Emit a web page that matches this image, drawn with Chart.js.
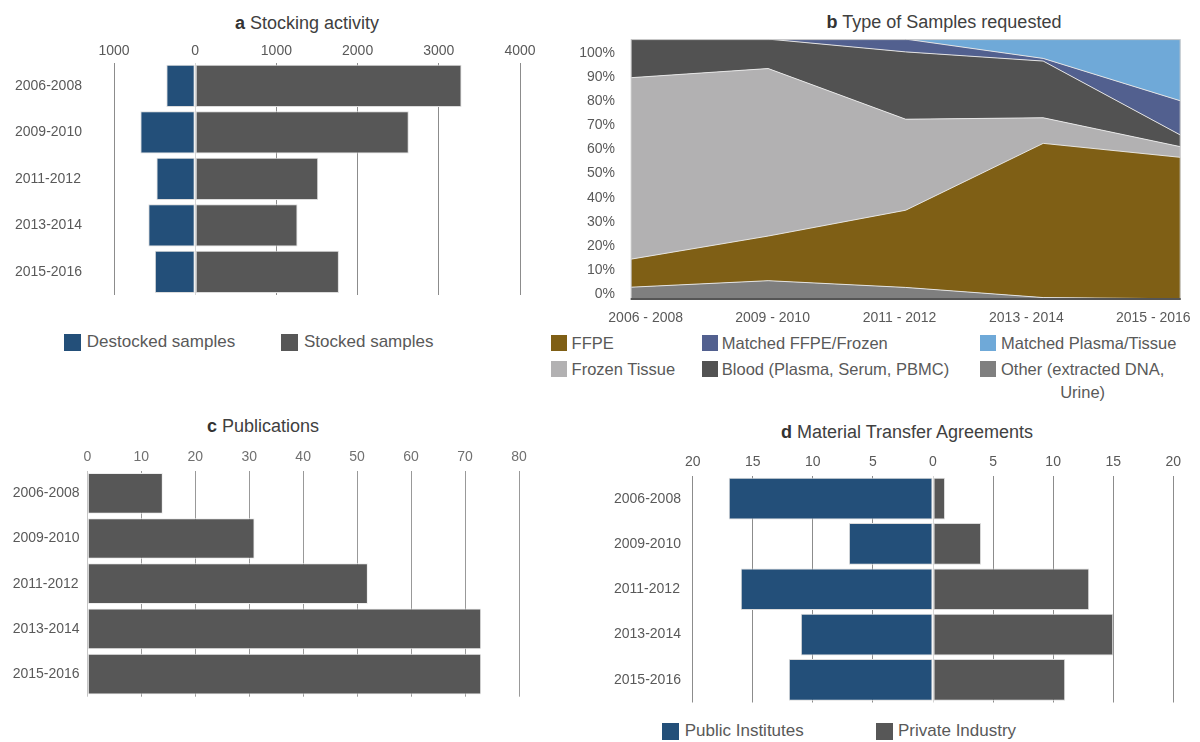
<!DOCTYPE html>
<html><head><meta charset="utf-8">
<script src="https://cdn.jsdelivr.net/npm/chart.js@4.4.0/dist/chart.umd.min.js"></script>
<style>
html,body{margin:0;padding:0;background:#fff;}
body{width:1200px;height:742px;position:relative;overflow:hidden;font-family:'Liberation Sans',Arial,sans-serif;}
canvas{position:absolute;}
.title{position:absolute;width:400px;text-align:center;font-size:18px;color:#404040;line-height:22px;white-space:nowrap;}
.title b{color:#333;}
.sq{position:absolute;}
.lt{position:absolute;color:#595959;white-space:nowrap;}
</style></head><body>
<div class="title" style="left:107px;top:11.7px"><b>a</b> Stocking activity</div>
<div class="title" style="left:744px;top:10.7px"><b>b</b> Type of Samples requested</div>
<div class="title" style="left:63px;top:415px"><b>c</b> Publications</div>
<div class="title" style="left:707px;top:420.7px"><b>d</b> Material Transfer Agreements</div>
<canvas id="ca" width="545" height="275" style="left:0;top:30px"></canvas>
<canvas id="cb" width="640" height="307" style="left:560px;top:22.9px"></canvas>
<canvas id="cc" width="545" height="271" style="left:0;top:435px"></canvas>
<canvas id="cd" width="605" height="272" style="left:590px;top:440px"></canvas>
<script>
// ---------- data ----------
const periods = ['2006-2008', '2009-2010', '2011-2012', '2013-2014', '2015-2016'];
const periodsB = ['2006 - 2008', '2009 - 2010', '2011 - 2012', '2013 - 2014', '2015 - 2016'];

// a Stocking activity
const destockedSamples = [355, 675, 477, 577, 497];
const stockedSamples = [3280, 2630, 1515, 1260, 1770];

// b Type of Samples requested: upper edge of each band, read on the % axis
const pctTicks = [0, 10, 20, 30, 40, 50, 60, 70, 80, 90, 100];
const otherUpper = [2.9, 5.6, 2.8, -1.4, -1.9];
const ffpeUpper = [14.5, 24.1, 34.8, 62.5, 56.7];
const frozenUpper = [89.7, 93.5, 72.5, 73.1, 61.1];
const bloodUpper = [105.7, 105.7, 100.4, 96.6, 65.9];
const matchedFfpeUpper = [105.7, 105.7, 105.7, 97.7, 80.1];
const matchedPlasmaUpper = [105.7, 105.7, 105.7, 105.7, 105.7];

// c Publications
const publications = [14, 31, 52, 73, 73];

// d Material Transfer Agreements
const publicInstitutes = [17, 7, 16, 11, 12];
const privateIndustry = [1, 4, 13, 15, 11];

// ---------- style ----------
const BLUE = '#234f79', DGRAY = '#575757';
const C_FFPE = '#7f5f15', C_MFF = '#52608f', C_MPT = '#6fa9d8', C_FROZ = '#b2b1b2', C_BLOOD = '#525252', C_OTHER = '#7f7f7f';
Chart.defaults.font.family = "'Liberation Sans', Arial, sans-serif";
Chart.defaults.color = '#595959';
Chart.defaults.animation = false;

const gridCol = (zeroCol, col) => (c => (c.tick && c.tick.value === 0) ? zeroCol : col);
const noPlug = { legend: { display: false }, tooltip: { enabled: false } };

// ---------- a ----------
new Chart(document.getElementById('ca'), {
  type: 'bar',
  data: {
    labels: periods,
    datasets: [
      { label: 'Destocked samples', data: destockedSamples.map(v => -v), backgroundColor: BLUE,
        borderColor: '#dcdcdc', borderWidth: 1, borderSkipped: false, barPercentage: 0.91, categoryPercentage: 1 },
      { label: 'Stocked samples', data: stockedSamples, backgroundColor: DGRAY,
        borderColor: '#dcdcdc', borderWidth: 1, borderSkipped: false, barPercentage: 0.91, categoryPercentage: 1 }
    ]
  },
  options: {
    indexAxis: 'y', responsive: false,
    layout: { padding: { left: 15, right: 25, top: 0, bottom: 10 } },
    plugins: noPlug,
    scales: {
      x: { position: 'top', stacked: true, min: -1000, max: 4000,
        ticks: { stepSize: 1000, padding: 3, font: { size: 14 }, callback: v => Math.abs(v) },
        grid: { drawTicks: false, color: gridCol('#d6d6d6', '#8c8c8c'), lineWidth: 1 },
        border: { display: false },
        afterFit: s => { s.height = 32.7; } },
      y: { stacked: true, grid: { display: false, drawTicks: false }, border: { display: false },
        ticks: { padding: 0, crossAlign: 'far', font: { size: 14 } },
        afterFit: s => { s.width = 99; } }
    }
  }
});

// ---------- b ----------
const frameB = {
  id: 'frameB',
  afterDatasetsDraw(chart) {
    const { ctx, chartArea: a } = chart;
    ctx.save();
    ctx.strokeStyle = '#cacaca'; ctx.lineWidth = 1;
    ctx.beginPath();
    ctx.moveTo(a.left + 0.5, a.bottom); ctx.lineTo(a.left + 0.5, a.top + 0.5);
    ctx.lineTo(a.right - 0.5, a.top + 0.5); ctx.lineTo(a.right - 0.5, a.bottom);
    ctx.stroke();
    ctx.strokeStyle = '#555555'; ctx.lineWidth = 2;
    ctx.beginPath(); ctx.moveTo(a.left, a.bottom - 1); ctx.lineTo(a.right, a.bottom - 1); ctx.stroke();
    ctx.restore();
  }
};
const area = (label, data, color, fill) => ({
  label, data, fill, backgroundColor: color, borderColor: 'rgba(232,232,232,0.95)', borderWidth: 1,
  pointRadius: 0, tension: 0
});
new Chart(document.getElementById('cb'), {
  type: 'line',
  data: {
    labels: periodsB,
    datasets: [
      area('Other (extracted DNA, Urine)', otherUpper, C_OTHER, 'start'),
      area('FFPE', ffpeUpper, C_FFPE, '-1'),
      area('Frozen Tissue', frozenUpper, C_FROZ, '-1'),
      area('Blood (Plasma, Serum, PBMC)', bloodUpper, C_BLOOD, '-1'),
      area('Matched FFPE/Frozen', matchedFfpeUpper, C_MFF, '-1'),
      area('Matched Plasma/Tissue', matchedPlasmaUpper, C_MPT, '-1')
    ]
  },
  options: {
    responsive: false,
    layout: { padding: { left: 0, right: 19.3, top: 0, bottom: 0 } },
    plugins: noPlug,
    scales: {
      x: { type: 'category', display: false, offset: false },
      x2: { type: 'linear', position: 'bottom', min: -0.118, max: 4.216,
        grid: { display: false }, border: { display: false },
        ticks: { autoSkip: false, maxRotation: 0, padding: 1.6, font: { size: 14 }, callback: v => periodsB[v] },
        afterBuildTicks: s => { s.ticks = periodsB.map((_, i) => ({ value: i })); },
        afterFit: s => { s.height = 30; } },
      y: { min: -2.4, max: 105.7, grid: { display: false }, border: { display: false },
        ticks: { padding: 7.7, font: { size: 14 }, callback: v => v + '%' },
        afterBuildTicks: s => { s.ticks = pctTicks.map(v => ({ value: v })); },
        afterFit: s => { s.width = 70.7; } }
    }
  },
  plugins: [frameB]
});

// ---------- c ----------
new Chart(document.getElementById('cc'), {
  type: 'bar',
  data: {
    labels: periods,
    datasets: [
      { label: 'Publications', data: publications, backgroundColor: DGRAY, borderColor: '#eeeeee',
        borderWidth: 1, borderSkipped: false, barPercentage: 0.9, categoryPercentage: 1 }
    ]
  },
  options: {
    indexAxis: 'y', responsive: false,
    layout: { padding: { left: 12.7, right: 26, top: 0, bottom: 9.3 } },
    plugins: noPlug,
    scales: {
      x: { position: 'top', min: 0, max: 80,
        ticks: { stepSize: 10, padding: 5.6, font: { size: 14 }, color: '#707070' },
        grid: { drawTicks: false, color: gridCol('#c4c4c4', '#999999'), lineWidth: 1 },
        border: { display: false },
        afterFit: s => { s.height = 35.7; } },
      y: { grid: { display: false, drawTicks: false }, border: { display: false },
        ticks: { padding: 0, crossAlign: 'far', font: { size: 14 } },
        afterFit: s => { s.width = 74.6; } }
    }
  }
});

// ---------- d ----------
new Chart(document.getElementById('cd'), {
  type: 'bar',
  data: {
    labels: periods,
    datasets: [
      { label: 'Public Institutes', data: publicInstitutes.map(v => -v), backgroundColor: BLUE,
        borderColor: '#dcdcdc', borderWidth: 1, borderSkipped: false, barPercentage: 0.92, categoryPercentage: 1 },
      { label: 'Private Industry', data: privateIndustry, backgroundColor: DGRAY,
        borderColor: '#dcdcdc', borderWidth: 1, borderSkipped: false, barPercentage: 0.92, categoryPercentage: 1 }
    ]
  },
  options: {
    indexAxis: 'y', responsive: false,
    layout: { padding: { left: 24, right: 21.7, top: 0, bottom: 9.5 } },
    plugins: noPlug,
    scales: {
      x: { position: 'top', stacked: true, min: -20, max: 20,
        ticks: { stepSize: 5, padding: 5.9, font: { size: 14 }, callback: v => Math.abs(v) },
        grid: { drawTicks: false, color: gridCol('#d6d6d6', '#8c8c8c'), lineWidth: 1 },
        border: { display: false },
        afterFit: s => { s.height = 36; } },
      y: { stacked: true, grid: { display: false, drawTicks: false }, border: { display: false },
        ticks: { padding: 0, crossAlign: 'far', font: { size: 14 } },
        afterFit: s => { s.width = 78.7; } }
    }
  }
});

// ---------- legends (HTML, text as real text) ----------
function legendItem(color, sqX, sqSize, textX, yc, text, fontSize, lineH, multiline) {
  const sq = document.createElement('div');
  sq.className = 'sq';
  Object.assign(sq.style, { left: sqX + 'px', top: (yc - sqSize / 2) + 'px', width: sqSize + 'px', height: sqSize + 'px', background: color });
  document.body.appendChild(sq);
  const t = document.createElement('div');
  t.className = 'lt';
  Object.assign(t.style, { left: textX + 'px', top: (yc - lineH / 2) + 'px', fontSize: fontSize + 'px', lineHeight: lineH + 'px' });
  if (multiline) { t.style.textAlign = 'center'; t.innerHTML = text; } else { t.textContent = text; }
  document.body.appendChild(t);
}
// a
legendItem(BLUE, 63.6, 17, 86.8, 342, 'Destocked samples', 17, 20);
legendItem(DGRAY, 281.4, 17, 304, 342, 'Stocked samples', 17, 20);
// b
legendItem(C_FFPE, 550.5, 16, 571.6, 342.7, 'FFPE', 16.5, 22.4);
legendItem(C_MFF, 701.6, 16, 721.8, 342.7, 'Matched FFPE/Frozen', 16.5, 22.4);
legendItem(C_MPT, 980, 16, 1001, 342.7, 'Matched Plasma/Tissue', 16.5, 22.4);
legendItem(C_FROZ, 550.5, 16, 571.6, 369.3, 'Frozen Tissue', 16.5, 22.4);
legendItem(C_BLOOD, 701.6, 16, 721.8, 369.3, 'Blood (Plasma, Serum, PBMC)', 16.5, 22.4);
legendItem(C_OTHER, 980, 16, 1001, 369.3, 'Other (extracted DNA,<br>Urine)', 16.5, 22.4, true);
// d
legendItem(BLUE, 661.8, 17, 684.7, 731, 'Public Institutes', 17, 20);
legendItem(DGRAY, 875.6, 17, 898, 731, 'Private Industry', 17, 20);
</script>
</body></html>
